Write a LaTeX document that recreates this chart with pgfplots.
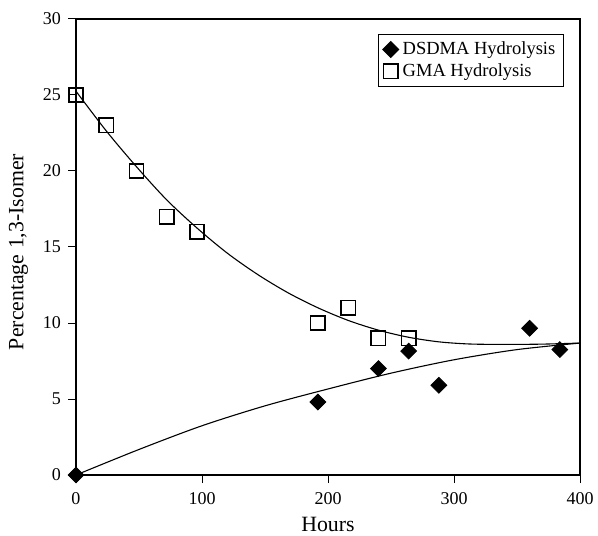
\documentclass[border=0pt]{standalone}
\usepackage{fontspec}
\setmainfont{Liberation Serif}
\usepackage{pgfplots}
\pgfplotsset{compat=1.18}
\begin{document}
\begin{tikzpicture}
\useasboundingbox (-38pt,-30pt) rectangle (261pt,237.5pt);
\begin{axis}[
  at={(0,0)}, anchor=south west,
  scale only axis,
  width=252pt, height=228pt,
  xmin=0, xmax=400, ymin=0, ymax=30,
  xtick={0,100,200,300,400},
  ytick={0,5,10,15,20,25,30},
  tick align=outside,
  tick pos=left,
  major tick length=4pt,
  axis line style={line width=0.65pt},
  tick style={line width=0.5pt, black},
  /pgf/number format/assume math mode=true,
  ticklabel style={font=\fontsize{9}{10}\selectfont},
  xticklabel style={yshift=-1pt},
  xlabel={Hours},
  ylabel={Percentage 1,3-Isomer},
  label style={font=\fontsize{10.9}{12}\selectfont},
  xlabel style={yshift=0.5pt},
  ylabel style={yshift=0.5pt, xshift=-2.5pt},
  legend style={at={(0.968,0.967)}, anchor=north east,
    draw=black, line width=0.5pt, inner xsep=2pt, inner ysep=1.5pt,
    font=\fontsize{9.25}{10}\selectfont, cells={anchor=west}, row sep=-1pt},
  legend image code/.code={\draw[mark repeat=2,mark phase=2,#1] plot coordinates {(0pt,0pt)(5pt,0pt)(10pt,0pt)};},
]
\addplot[only marks, mark=square*, mark size=2.8pt, black, mark options={fill=black, rotate=45}]
  coordinates {(0,0) (192,4.8) (240,7.0) (264,8.15) (288,5.9) (360,9.65) (384,8.25)};
\addlegendentry{DSDMA Hydrolysis}
\addplot[only marks, mark=square, mark size=3.6pt, black, mark options={line width=0.75pt}]
  coordinates {(0,25) (24,23) (48,20) (72,17) (96,16) (192,10) (216,11) (240,9) (264,9)};
\addlegendentry{GMA Hydrolysis}
\addplot[black, line width=0.55pt, smooth, forget plot]
  coordinates {(0,25.25) (24,22.64) (48,20.28) (72,18.1) (96,16.25) (120,14.6) (144,13.2) (168,12.0) (192,11.0) (216,10.17) (240,9.53) (264,9.06) (288,8.76) (312,8.62) (340,8.59) (370,8.61) (400,8.68)};
\addplot[black, line width=0.55pt, smooth, forget plot]
  coordinates {(0,0) (50,1.68) (100,3.24) (150,4.55) (200,5.66) (250,6.7) (300,7.58) (350,8.25) (400,8.68)};
\end{axis}
\end{tikzpicture}
\end{document}
